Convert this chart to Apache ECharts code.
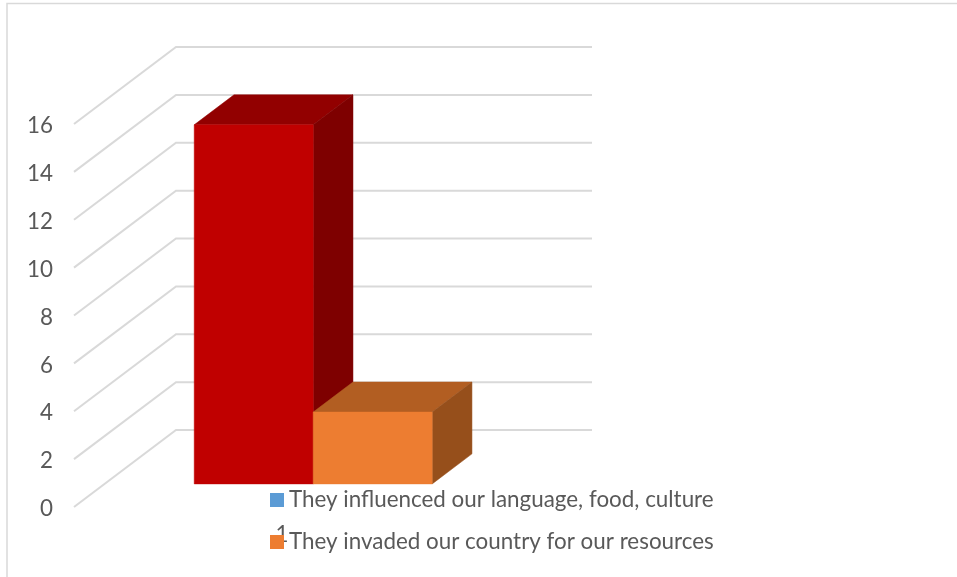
<!DOCTYPE html>
<html>
<head>
<meta charset="utf-8">
<style>html,body{margin:0;padding:0;background:#fff}#c{width:957px;height:577px}</style>
<script src="https://cdn.jsdelivr.net/npm/echarts@6/dist/echarts.min.js"></script>
</head>
<body>
<div id="c"></div>
<script>
const categories = ['1'];
const influenced = [15];
const invaded = [3];
const yTicks = [0, 2, 4, 6, 8, 10, 12, 14, 16];
const seriesNames = ['They influenced our language, food, culture', 'They invaded our country for our resources'];
const legendColors = ['#5b9bd5', '#ed7d31'];
const faceColors = [
  { front: '#c00000', top: '#920000', side: '#7e0000' },
  { front: '#ed7d31', top: '#b25e22', side: '#964f1b' }
];

const DEPTH = [102, -77];      // wall-floor depth vector
const BAR_Z0 = 0.3, BAR_Z1 = 0.69;
const BAR_FRACTION = 0.286;

function renderGrid(params, api) {
  const p = api.coord([0, api.value(0)]);
  const half = api.size([1, 0])[0] / 2;
  const x0 = p[0] - half, y0 = p[1];
  return {
    type: 'polyline',
    shape: { points: [[x0, y0], [x0 + DEPTH[0], y0 + DEPTH[1]], [x0 + 2 * half + DEPTH[0], y0 + DEPTH[1]]] },
    style: { stroke: '#d9d9d9', lineWidth: 2, fill: null },
    silent: true
  };
}

function barRenderer(slot, colors) {
  return function (params, api) {
    const base = api.coord([0, 0]);
    const tip = api.coord([0, api.value(0)]);
    const w = api.size([1, 0])[0] * BAR_FRACTION;
    const ox = DEPTH[0] * BAR_Z0 + 0.6, oy = DEPTH[1] * BAR_Z0;
    const dx = DEPTH[0] * (BAR_Z1 - BAR_Z0), dy = DEPTH[1] * (BAR_Z1 - BAR_Z0);
    const xl = base[0] + ox + slot * w, xr = xl + w;
    const yb = base[1] + oy, yt = tip[1] + oy;
    const poly = (points, fill) => ({ type: 'polygon', shape: { points }, style: { fill, stroke: fill, lineWidth: 0.5 } });
    return {
      type: 'group',
      children: [
        poly([[xl, yt], [xr, yt], [xr + dx, yt + dy], [xl + dx, yt + dy]], colors.top),
        poly([[xr, yt], [xr + dx, yt + dy], [xr + dx, yb + dy], [xr, yb]], colors.side),
        poly([[xl, yt], [xr, yt], [xr, yb], [xl, yb]], colors.front)
      ]
    };
  };
}

const chart = echarts.init(document.getElementById('c'), null, { renderer: 'canvas' });
chart.setOption({
  animation: false,
  backgroundColor: '#ffffff',
  textStyle: { fontFamily: 'Lato' },
  grid: { left: 74, right: 467, top: 124, bottom: 70 },
  xAxis: {
    type: 'category',
    data: categories,
    axisLine: { show: false },
    axisTick: { show: false },
    splitLine: { show: false },
    axisLabel: { color: '#595959', fontSize: 22.4, fontFamily: 'Lato', margin: 17 }
  },
  yAxis: {
    type: 'value',
    min: 0, max: 16, interval: 2,
    axisLine: { show: false },
    axisTick: { show: false },
    splitLine: { show: false },
    axisLabel: { color: '#595959', fontSize: 22.4, fontFamily: 'Lato', margin: 21, verticalAlign: 'top', lineHeight: 4 }
  },
  legend: {
    orient: 'vertical',
    left: 270,
    top: 489,
    padding: 0,
    itemWidth: 14,
    itemHeight: 14,
    itemGap: 20,
    icon: 'rect',
    data: seriesNames,
    z: 10,
    textStyle: { color: '#595959', fontSize: 22.4, fontFamily: 'Lato' }
  },
  graphic: [
    { type: 'polyline', shape: { points: [[7, 577], [7, 3.5], [957, 3.5]] }, style: { stroke: '#d9d9d9', lineWidth: 1.5, fill: null }, silent: true }
  ],
  series: [
    { type: 'custom', name: 'gridlines', data: yTicks, renderItem: renderGrid, encode: { y: 0 }, z: 1, silent: true },
    { type: 'custom', name: seriesNames[0], data: influenced, encode: { y: 0 }, renderItem: barRenderer(-1, faceColors[0]), itemStyle: { color: legendColors[0] }, z: 2 },
    { type: 'custom', name: seriesNames[1], data: invaded, encode: { y: 0 }, renderItem: barRenderer(0, faceColors[1]), itemStyle: { color: legendColors[1] }, z: 3 }
  ]
});
</script>
</body>
</html>
